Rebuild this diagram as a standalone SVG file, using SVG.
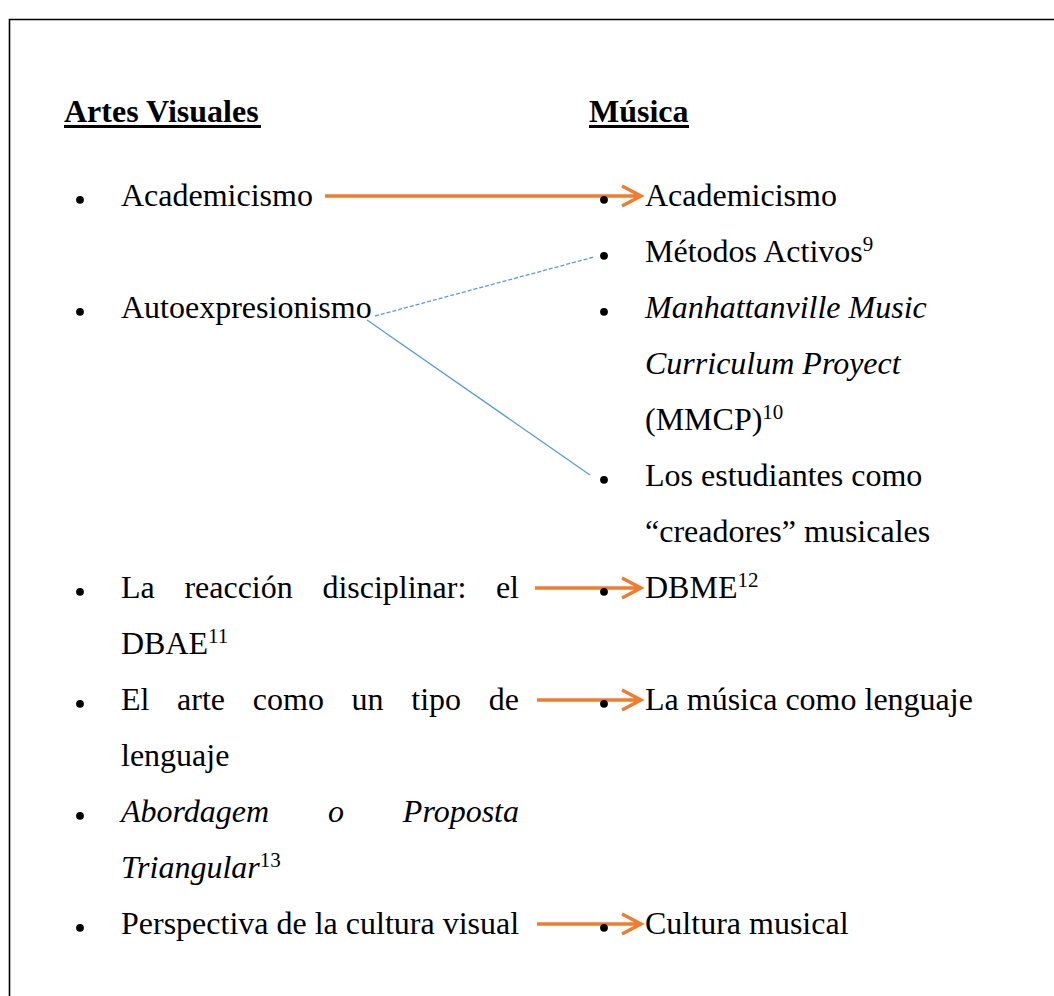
<svg xmlns="http://www.w3.org/2000/svg" width="1054" height="996" viewBox="0 0 1054 996">
  <style>
    .t { font-family: "Liberation Serif", "Times New Roman", serif; font-size: 32px; fill: #000; }
    .h { font-weight: bold; }
    .i { font-style: italic; }
    .sup { font-size: 21px; font-style: normal; }
    .ul { fill: #000; }
    .dot { fill: #000; }
    .arrow { fill: none; stroke: #ED7D31; stroke-width: 3.5; stroke-linejoin: miter; }
    .link { fill: none; stroke: #5B9BD5; stroke-width: 1.3; }
    .dash { stroke-dasharray: 4 2; }
  </style>

  <rect width="1054" height="996" fill="#fff"/>
  <!-- frame (open to the right and bottom) -->
  <path d="M1060,19.5 H9.5 V1000" fill="none" stroke="#000" stroke-width="1.6"/>

  <!-- column headers -->
  <g id="header-artes">
    <text class="t h" x="64" y="122">Artes Visuales</text>
    <rect class="ul" x="64" y="125" width="197" height="3"/>
  </g>
  <g id="header-musica">
    <text class="t h" x="589" y="122">Música</text>
    <rect class="ul" x="589" y="125" width="100" height="3"/>
  </g>

  <!-- left column: visual arts -->
  <g id="av-academicismo">
    <circle class="dot" cx="80" cy="199.8" r="3.9"/>
    <text class="t" x="121" y="206">Academicismo</text>
  </g>
  <g id="av-autoexpresionismo">
    <circle class="dot" cx="80" cy="311.8" r="3.9"/>
    <text class="t" x="121" y="318">Autoexpresionismo</text>
  </g>
  <g id="av-dbae">
    <circle class="dot" cx="80" cy="591.8" r="3.9"/>
    <text class="t" y="598"><tspan x="121">La</tspan><tspan x="184.4">reacción</tspan><tspan x="322.4">disciplinar:</tspan></text>
    <text class="t" x="519" y="598" text-anchor="end">el</text>
    <text class="t" x="121" y="654">DBAE<tspan class="sup" dy="-11">11</tspan></text>
  </g>
  <g id="av-lenguaje">
    <circle class="dot" cx="80" cy="703.8" r="3.9"/>
    <text class="t" y="710"><tspan x="121">El</tspan><tspan x="177.1">arte</tspan><tspan x="252.8">como</tspan><tspan x="351.6">un</tspan><tspan x="411.3">tipo</tspan></text>
    <text class="t" x="519" y="710" text-anchor="end">de</text>
    <text class="t" x="121" y="766">lenguaje</text>
  </g>
  <g id="av-triangular">
    <circle class="dot" cx="80" cy="815.8" r="3.9"/>
    <text class="t i" y="822"><tspan x="121">Abordagem</tspan><tspan x="328">o</tspan></text>
    <text class="t i" x="519" y="822" text-anchor="end">Proposta</text>
    <text class="t i" x="121" y="878">Triangular<tspan class="sup" dy="-11">13</tspan></text>
  </g>
  <g id="av-cultura-visual">
    <circle class="dot" cx="80" cy="927.8" r="3.9"/>
    <text class="t" x="121" y="934">Perspectiva de la cultura visual</text>
  </g>

  <!-- connectors -->
  <g id="connectors">
    <path class="arrow" d="M325,196 H640 M622,186 L641,196 L622,206"/>
    <path class="link dash" d="M375,316 L594,257"/>
    <path class="link" d="M367,320 L590,475"/>
    <path class="arrow" d="M535,588 H640 M622,578 L641,588 L622,598"/>
    <path class="arrow" d="M537,700 H640 M622,690 L641,700 L622,710"/>
    <path class="arrow" d="M537,924 H640 M622,914 L641,924 L622,934"/>
  </g>

  <!-- right column: music -->
  <g id="mu-academicismo">
    <circle class="dot" cx="604" cy="199.8" r="3.9"/>
    <text class="t" x="645" y="206">Academicismo</text>
  </g>
  <g id="mu-metodos-activos">
    <circle class="dot" cx="604" cy="255.8" r="3.9"/>
    <text class="t" x="645" y="262">Métodos Activos<tspan class="sup" dy="-11">9</tspan></text>
  </g>
  <g id="mu-mmcp">
    <circle class="dot" cx="604" cy="311.8" r="3.9"/>
    <text class="t i" x="645" y="318">Manhattanville Music</text>
    <text class="t i" x="645" y="374">Curriculum Proyect</text>
    <text class="t" x="645" y="430">(MMCP)<tspan class="sup" dy="-11">10</tspan></text>
  </g>
  <g id="mu-creadores">
    <circle class="dot" cx="604" cy="479.8" r="3.9"/>
    <text class="t" x="645" y="486">Los estudiantes como</text>
    <text class="t" x="645" y="542">“creadores” musicales</text>
  </g>
  <g id="mu-dbme">
    <circle class="dot" cx="604" cy="591.8" r="3.9"/>
    <text class="t" x="645" y="598">DBME<tspan class="sup" dy="-11">12</tspan></text>
  </g>
  <g id="mu-lenguaje">
    <circle class="dot" cx="604" cy="703.8" r="3.9"/>
    <text class="t" x="645" y="710">La música como lenguaje</text>
  </g>
  <g id="mu-cultura">
    <circle class="dot" cx="604" cy="927.8" r="3.9"/>
    <text class="t" x="645" y="934">Cultura musical</text>
  </g>
</svg>
